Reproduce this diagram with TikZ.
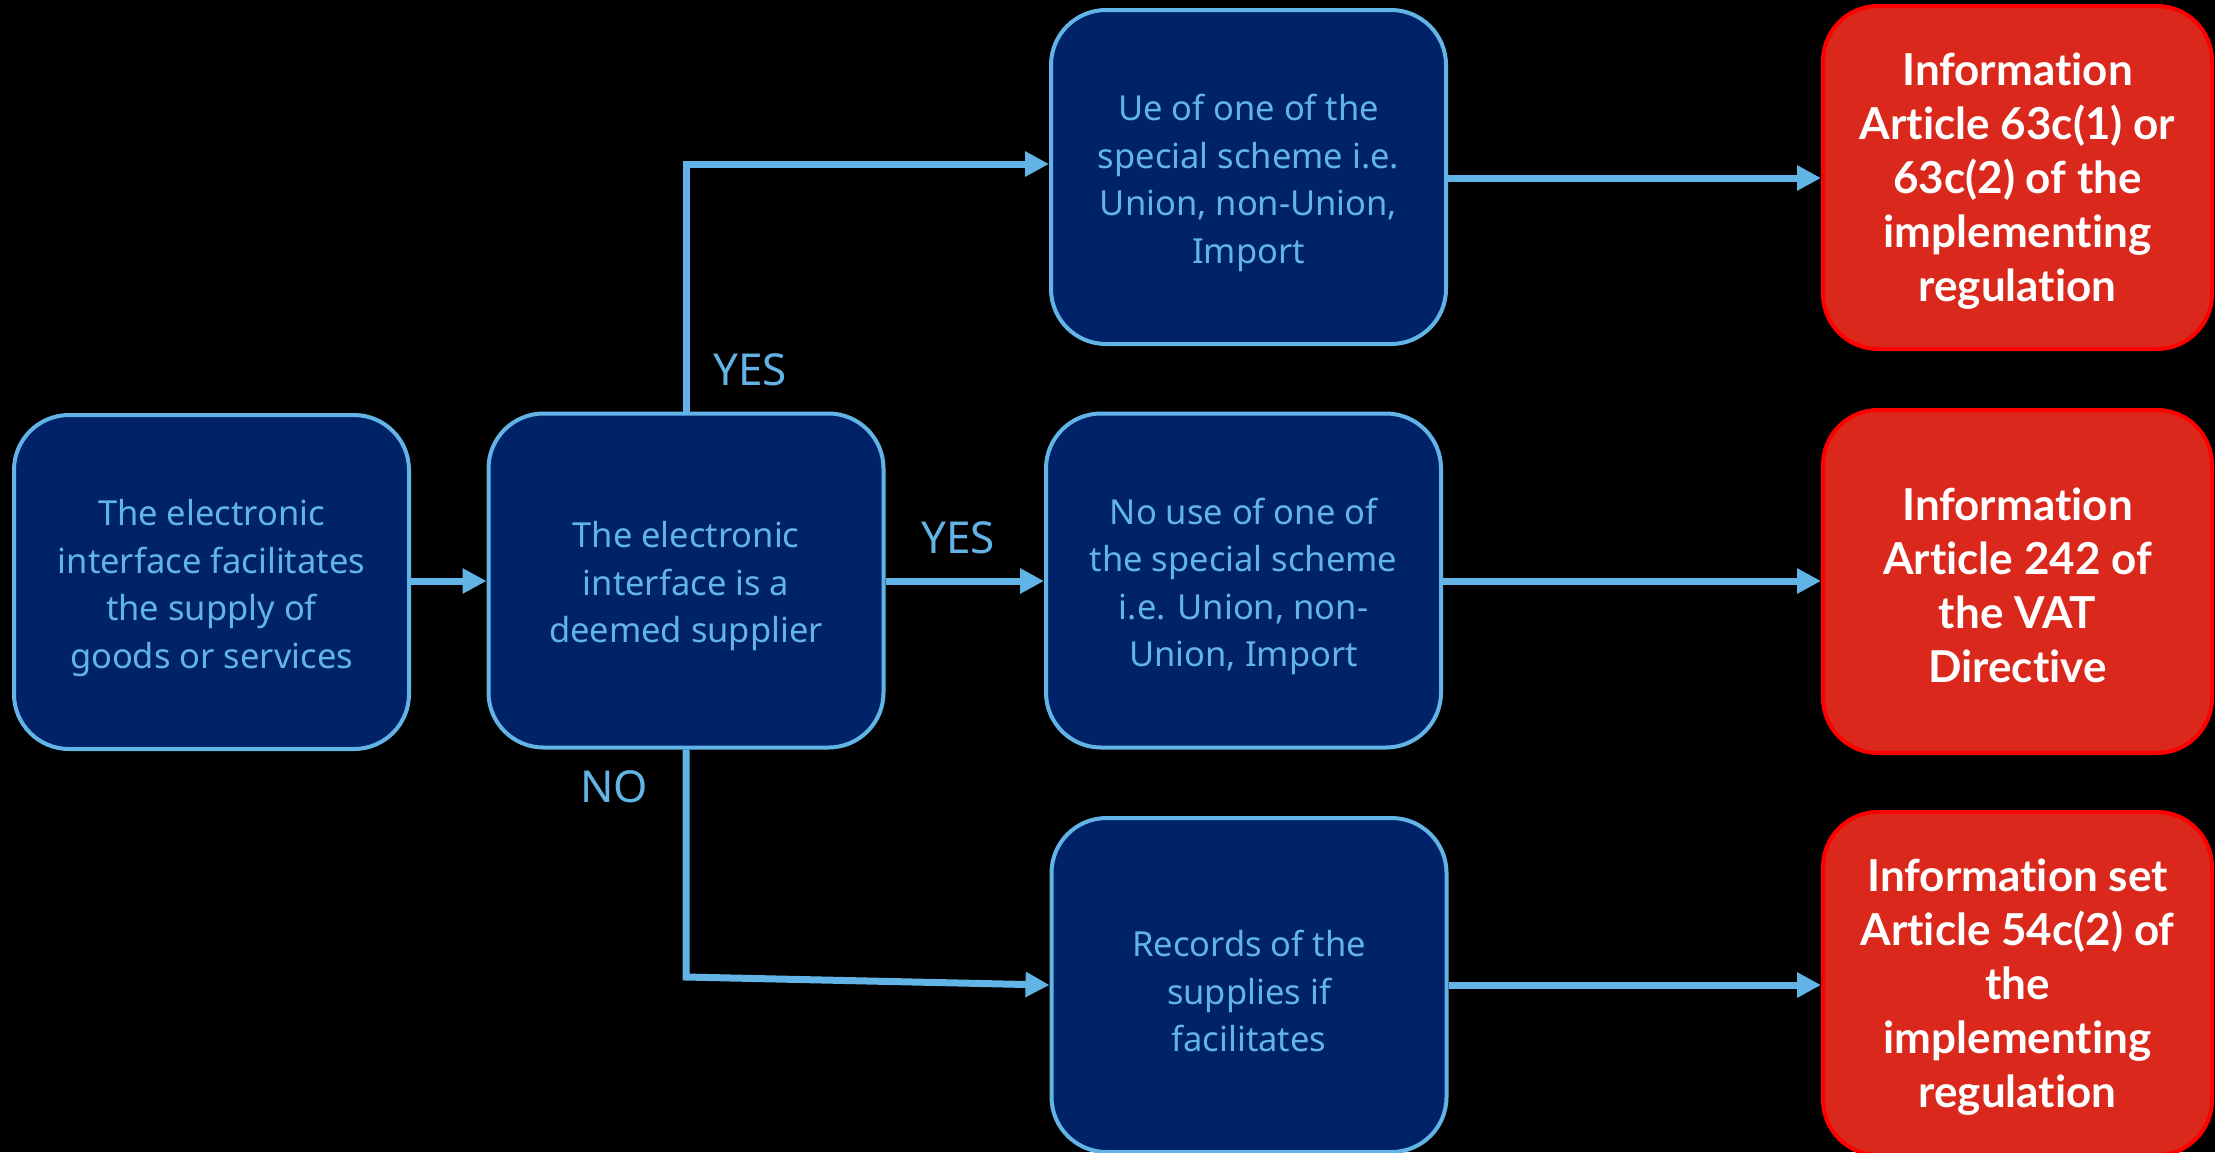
\documentclass[tikz,border=0pt]{standalone}
\usepackage{fontspec}
\setmainfont{Noto Sans}
\newfontfamily\redfont{Lato}[Ligatures=NoCommon]
\usetikzlibrary{arrows.meta}
\definecolor{navy}{RGB}{0,34,104}
\definecolor{lblue}{RGB}{98,180,230}
\definecolor{rfill}{RGB}{218,41,28}
\definecolor{rborder}{RGB}{255,0,0}
\tikzset{
  bluebox/.style={draw=lblue, line width=4pt, fill=navy, rounded corners=55pt,
    minimum width=395pt, minimum height=334pt, inner sep=0pt},
  bluetext/.style={align=center, inner sep=0pt, text=lblue,
    font=\fontsize{34.5}{47.5}\selectfont},
  redbox/.style={draw=rborder, line width=4pt, fill=rfill, rounded corners=55pt,
    minimum width=389pt, minimum height=343pt, inner sep=0pt},
  redtext/.style={align=center, inner sep=0pt, text=white,
    font=\redfont\bfseries\fontsize{44}{54}\selectfont},
  conn/.style={draw=lblue, line width=7pt, -{Triangle[length=24pt,width=24pt]}},
  lbl/.style={text=lblue, font=\fontsize{44}{50}\selectfont, inner sep=0pt}
}
\begin{document}
\begin{tikzpicture}[x=1pt,y=-1pt]
\fill[black] (0,0) rectangle (2215,1152);
\useasboundingbox (0,0) rectangle (2215,1152);
\node[bluebox] (a) at (211.5,582) {};
\node[bluebox] (b) at (686,580.5) {};
\node[bluebox] (c1) at (1248.5,177) {};
\node[bluebox] (c2) at (1243.5,580.5) {};
\node[bluebox] (c3) at (1249,985) {};
\node[redbox] (r1) at (2017.5,177.5) {};
\node[redbox] (r2) at (2017.5,581.5) {};
\node[redbox] (r3) at (2017.5,983.5) {};
\node[bluetext] (at) at ([yshift=-6pt]a.center) {The electronic\\interface facilitates\\the supply of\\goods or services};
\node[bluetext] (bt) at ([yshift=-6pt]b.center) {The electronic\\interface is a\\deemed supplier};
\node[bluetext] (c1t) at ([yshift=-6pt]c1.center) {Ue of one of the\\special scheme i.e.\\Union, non-Union,\\Import};
\node[bluetext] (c2t) at ([yshift=-6pt]c2.center) {No use of one of\\the special scheme\\i.e. Union, non-\\Union, Import};
\node[bluetext] (c3t) at ([yshift=-6pt]c3.center) {Records of the\\supplies if\\facilitates};
\node[redtext] (r1t) at ([yshift=-4pt]r1.center) {Informat\kern0pt ion\\Art\kern0pt icle 63c(1) or\\63c(2) of the\\implementing\\regulation};
\node[redtext] (r2t) at ([yshift=-4pt]r2.center) {Informat\kern0pt ion\\Art\kern0pt icle 242 of\\the VAT\\Direct\kern0pt ive};
\node[redtext] (r3t) at ([yshift=-4pt]r3.center) {Informat\kern0pt ion set\\Art\kern0pt icle 54c(2) of\\the\\implementing\\regulation};
\coordinate (up) at (686,164);
\coordinate (down) at (686,977);
\draw[conn] (a.east |- 0,581) -- (b.west |- 0,581);
\draw[conn] (b.north) -- (up) -- (c1.west |- up);
\draw[conn] (b.east |- 0,581) -- (c2.west |- 0,581);
\draw[conn] (b.south) -- (down) -- (c3.west |- 0,985);
\draw[conn] (c1.east |- 0,178) -- (r1.west |- 0,178);
\draw[conn] (c2.east |- 0,581) -- (r2.west |- 0,581);
\draw[conn] (c3.east |- 0,985) -- (r3.west |- 0,985);
\node[lbl] (yes1) at (750,370) {YES};
\node[lbl] (yes2) at (958,538) {YES};
\node[lbl] (no) at (614,787) {NO};
\end{tikzpicture}
\end{document}
